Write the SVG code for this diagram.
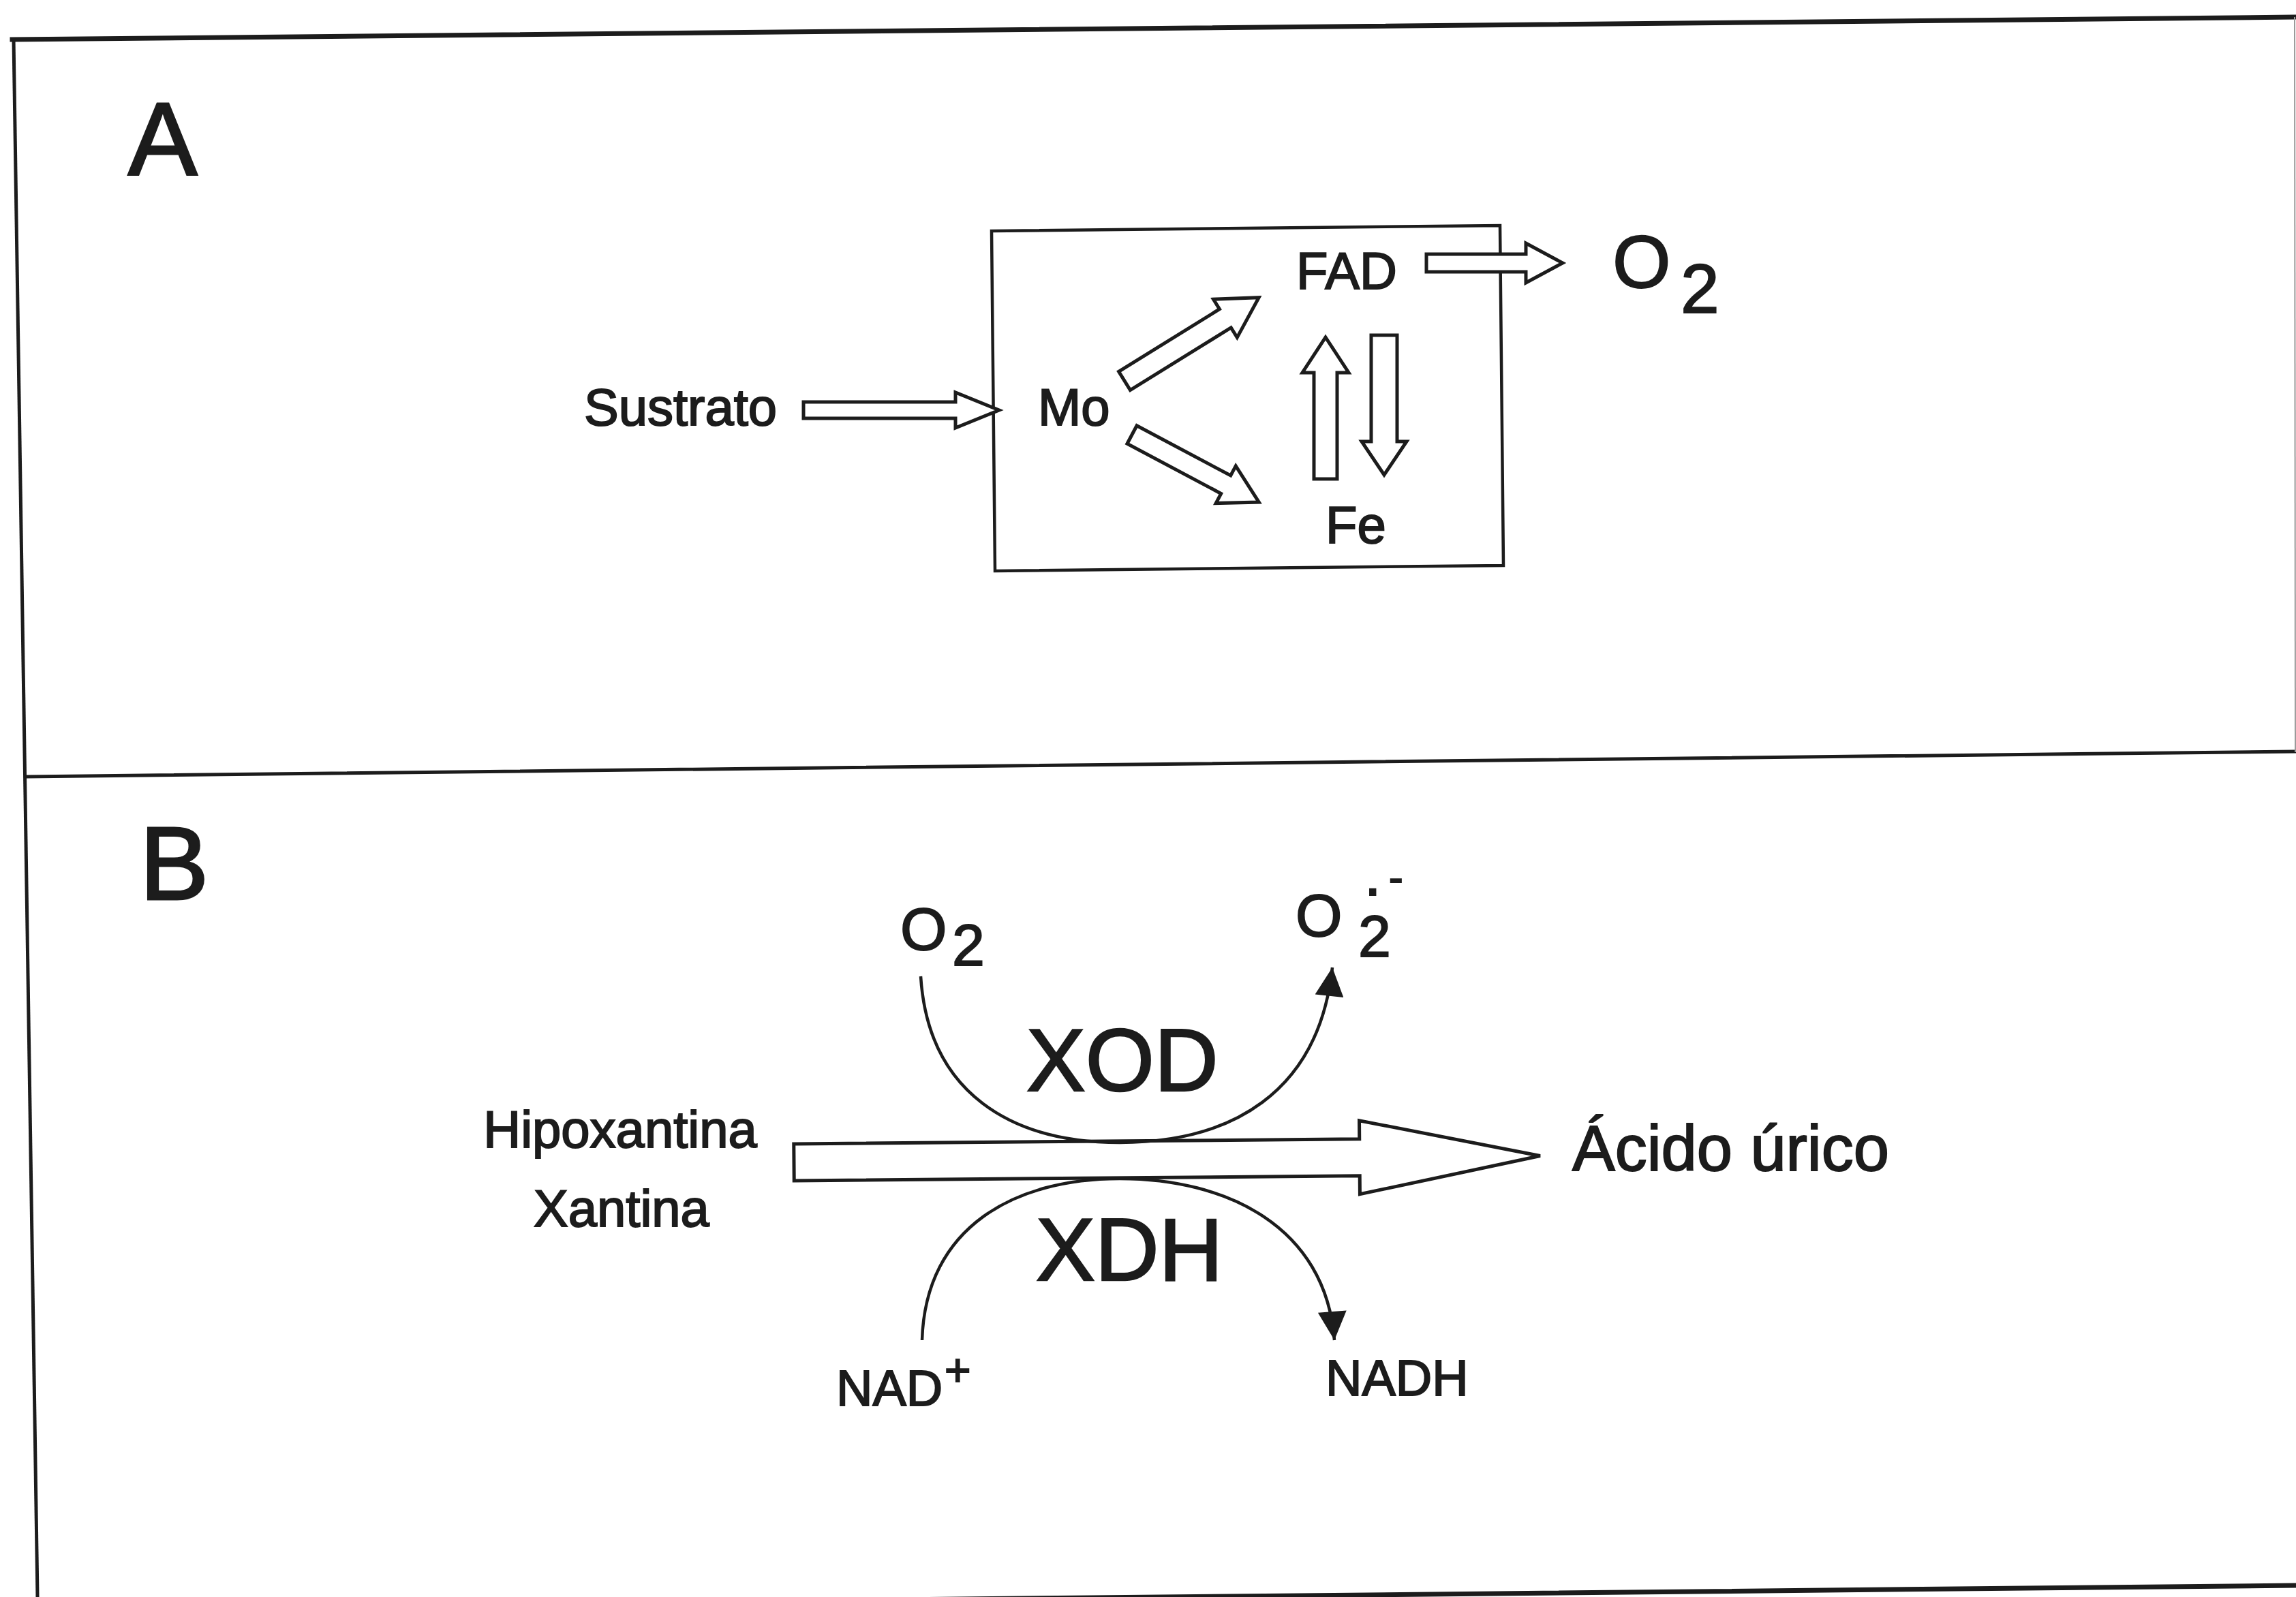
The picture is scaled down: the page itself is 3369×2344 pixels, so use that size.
<svg xmlns="http://www.w3.org/2000/svg" width="3369" height="2344" viewBox="0 0 3369 2344">
<defs>
<style>
.frame{stroke:#1c1c1c;fill:none;stroke-linecap:square}
.hollow{fill:#ffffff;stroke:#1c1c1c;stroke-width:5;stroke-linejoin:miter}
.curve{fill:none;stroke:#1c1c1c;stroke-width:4.5}
.t{font-family:"Liberation Sans",Arial,Helvetica,sans-serif;fill:#1c1c1c;stroke:#1c1c1c;stroke-width:2}
.panel{font-size:152px;stroke-width:3}
.lbl{font-size:76px}
.enz{font-size:130px;stroke-width:2.5}
</style>
<marker id="tri" viewBox="0 0 10 10" refX="10" refY="5" markerWidth="46" markerHeight="42" markerUnits="userSpaceOnUse" orient="auto">
<path d="M0,0 L10,5 L0,10 Z" fill="#1c1c1c"/>
</marker>
</defs>
<rect x="0" y="0" width="3369" height="2344" fill="#ffffff"/>

<g id="frame">
<line class="frame" x1="18" y1="58" x2="3369" y2="25" stroke-width="7"/>
<line class="frame" x1="20" y1="58" x2="55" y2="2344" stroke-width="5"/>
<line class="frame" x1="38" y1="1140" x2="3369" y2="1103" stroke-width="5"/>
<line class="frame" x1="40" y1="2361" x2="3369" y2="2327" stroke-width="7"/>
<line x1="3367" y1="25" x2="3368" y2="1104" stroke="#9a9a9a" stroke-width="2"/>
</g>

<g id="panel-A">
<text id="label-A" class="t panel" x="188" y="257">A</text>
<g id="enzyme-box">
<path d="M1455,339 L2201,331 L2206,830 L1460,838 Z" fill="none" stroke="#1c1c1c" stroke-width="4.5"/>
</g>
<g id="node-sustrato"><text class="t lbl" x="857" y="624">Sustrato</text></g>
<g id="node-mo"><text class="t lbl" x="1523" y="624">Mo</text></g>
<g id="node-fad"><text class="t lbl" x="1902" y="424">FAD</text></g>
<g id="node-fe"><text class="t lbl" x="1945" y="797">Fe</text></g>
<g id="node-o2-a">
<text class="t" font-size="110" x="2366" y="422">O</text>
<text class="t" font-size="102" x="2466" y="459">2</text>
</g>
</g>

<g id="panel-B">
<text id="label-B" class="t panel" x="205" y="1320">B</text>
<g id="node-o2"><text class="t" font-size="88" x="1321" y="1394">O</text><text class="t" font-size="86" x="1397" y="1417">2</text></g>
<g id="node-superoxide">
<text class="t" font-size="88" x="1901" y="1374">O</text>
<text class="t" font-size="86" x="1993" y="1404">2</text>
<text class="t" font-size="88" x="2002" y="1314">.</text>
<text class="t" font-size="62" x="2038" y="1309">-</text>
</g>
<g id="node-xod"><text class="t enz" x="1506" y="1601">XOD</text></g>
<g id="node-xdh"><text class="t enz" x="1520" y="1879">XDH</text></g>
<g id="node-substrates">
<text class="t lbl" x="910" y="1684" text-anchor="middle">Hipoxantina</text>
<text class="t lbl" x="912" y="1800" text-anchor="middle">Xantina</text>
</g>
<g id="node-urico"><text class="t" font-size="94" x="2307" y="1718">Ácido úrico</text></g>
<g id="node-nad"><text class="t" font-size="74" x="1227" y="2063">NAD</text><text class="t" font-size="66" x="1386" y="2034">+</text></g>
<g id="node-nadh"><text class="t" font-size="74" x="1945" y="2048">NADH</text></g>
</g>

<g id="connectors">
<g transform="translate(1179,602)"><path class="hollow" d="M0,-12 H223 V-26 L287,0 L223,26 V12 H0 Z"/></g>
<g transform="translate(2093,386)"><path class="hollow" d="M0,-13 H146 V-29 L200,0 L146,29 V13 H0 Z"/></g>
<g transform="translate(1650,559) rotate(-31.8)"><path class="hollow" d="M0,-16 H174 V-33 L232,0 L174,33 V16 H0 Z"/></g>
<g transform="translate(1661,638) rotate(28)"><path class="hollow" d="M0,-15 H156 V-31 L211,0 L156,31 V15 H0 Z"/></g>
<g transform="translate(1945,703) rotate(-90)"><path class="hollow" d="M0,-17 H156 V-34 L208,0 L156,34 V17 H0 Z"/></g>
<g transform="translate(2031,492) rotate(90)"><path class="hollow" d="M0,-19 H156 V-33 L205,0 L156,33 V19 H0 Z"/></g>
<g transform="translate(1165,1706) rotate(-0.5)"><path class="hollow" d="M0,-27 H830 V-54 L1095,0 L830,54 V27 H0 Z"/></g>
<path class="curve" d="M1351,1433 C1362,1605 1485,1677 1643,1677 C1805,1677 1935,1605 1955,1420" marker-end="url(#tri)"/>
<path class="curve" d="M1353,1967 C1358,1800 1490,1730 1643,1730 C1800,1730 1945,1800 1958,1967" marker-end="url(#tri)"/>
</g>
</svg>
